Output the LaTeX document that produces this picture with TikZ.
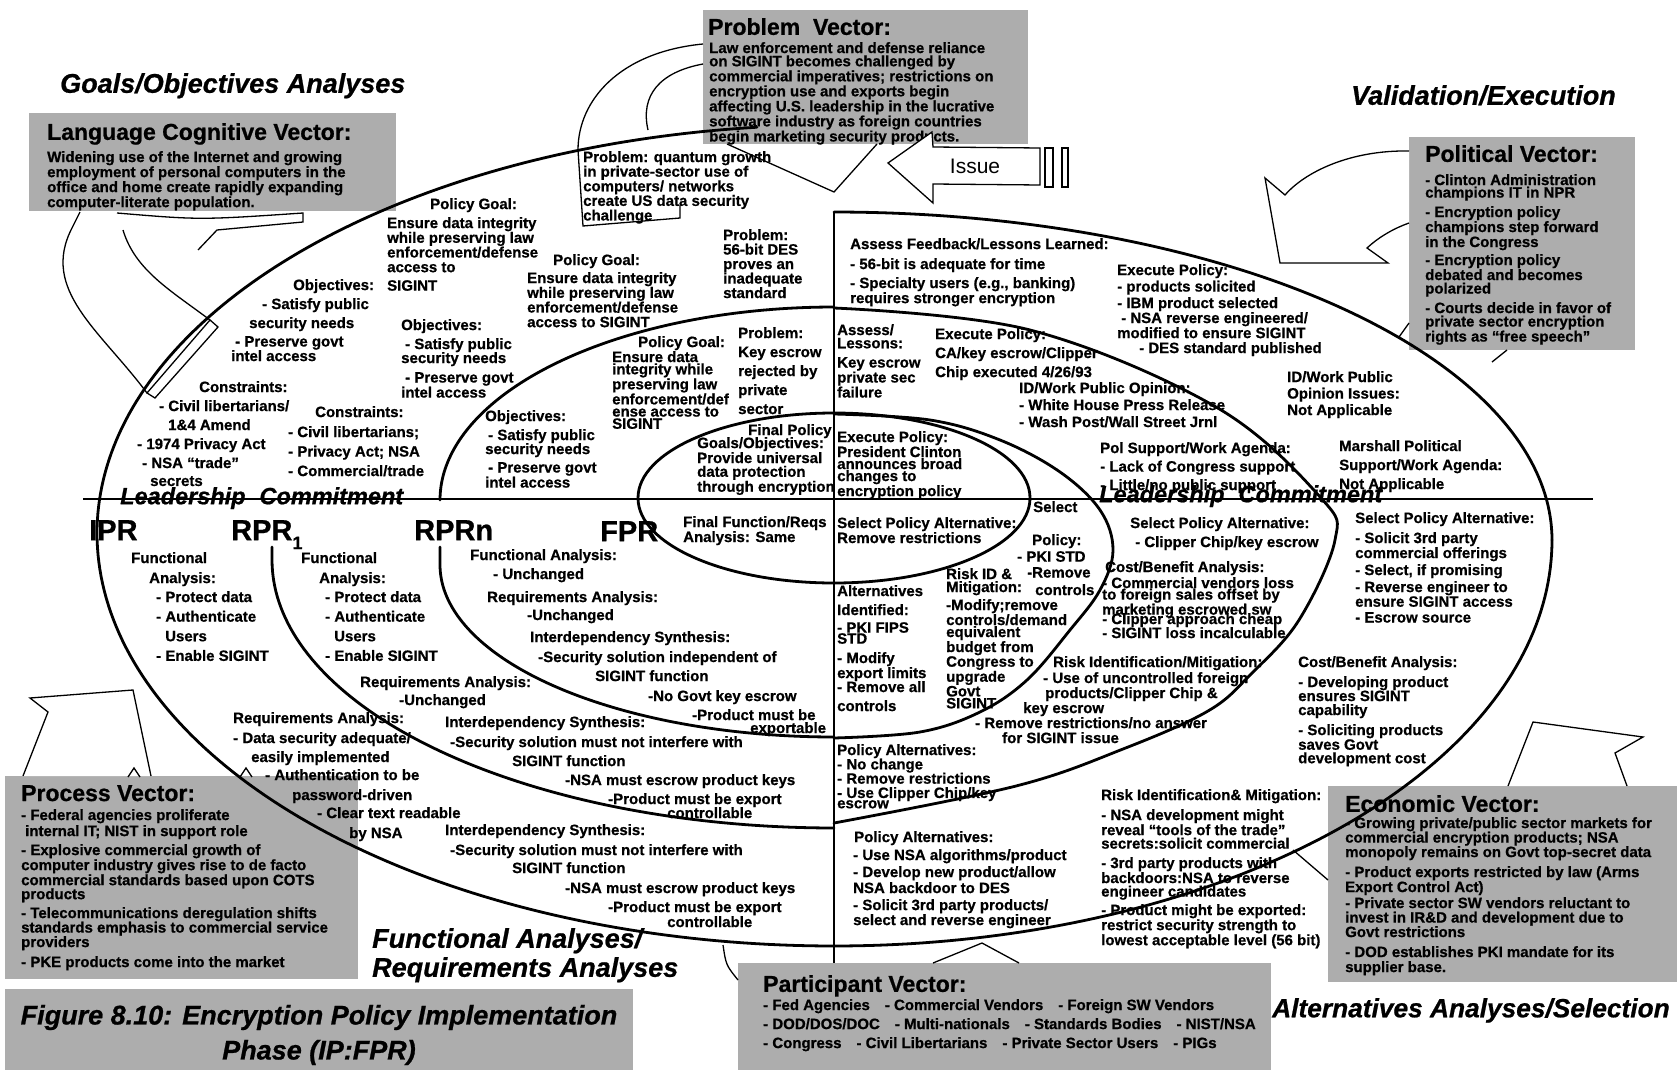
\documentclass[tikz,border=0pt]{standalone}
\usepackage{fontspec}
\setmainfont{Liberation Sans}[BoldFeatures={FakeBold=0.8},BoldItalicFeatures={FakeBold=0.8}]
\newcommand\T[5][15]{\node[tx=#1] (#2) at (#3,#4-11) {#5};}
\begin{document}
\begin{tikzpicture}[x=1pt,y=-1pt,
  tx/.style={font=\fontsize{15}{#1}\selectfont\bfseries,align=left,anchor=north west,inner sep=0pt},
  tx/.default=15,
  vt/.style={font=\fontsize{23}{23}\selectfont\bfseries,anchor=north west,inner sep=0pt},
  ttl/.style={font=\fontsize{27}{29}\selectfont\bfseries\itshape,anchor=north west,inner sep=0pt,align=left},
  lc/.style={font=\fontsize{23.5}{23.5}\selectfont\bfseries\itshape,anchor=north west,inner sep=0pt},
  lbl/.style={font=\fontsize{29}{29}\selectfont\bfseries,anchor=north west,inner sep=0pt},
  vbox/.style={fill=black!32,draw=none},
  spiral/.style={line width=2.8pt,line cap=round,line join=round},
  axis/.style={line width=1.6pt},
  blk/.style={draw,line width=1.3pt,fill=white,line join=miter},
  ln/.style={line width=1.3pt},
]
\useasboundingbox (0,0) rectangle (1677,1070);

% ---------------- grey vector boxes ----------------
\fill[vbox] (29,113) rectangle (396,211);
\node[vt] (lcvT) at (47,123) {Language Cognitive Vector:};
\T[12.6]{lcvB}{47}{162}{Widening use of the Internet and growing\\employment of personal computers in the\\office and home create rapidly expanding\\computer-literate population.}

\fill[vbox] (703,10) rectangle (1028,144);
\node[vt] (pvT) at (708,18) {Problem~ Vector:};
\T[13.2]{pvB}{709}{53}{Law enforcement and defense reliance\\on SIGINT becomes challenged by\\commercial imperatives; restrictions on\\encryption use and exports begin\\affecting U.S. leadership in the lucrative\\software industry as foreign countries\\begin marketing security products.}

\fill[vbox] (1409,137) rectangle (1635,350);
\node[vt] (polT) at (1425,145) {Political Vector:};
\T[12.5]{pol1}{1425}{185}{- Clinton Administration\\champions IT in NPR}
\T[13.8]{pol2}{1425}{217}{- Encryption policy\\champions step forward\\in the Congress}
\T[13.5]{pol3}{1425}{265}{- Encryption policy\\debated and becomes\\polarized}
\T[13.5]{pol4}{1425}{313}{- Courts decide in favor of\\private sector encryption\\rights as “free speech”}

\fill[vbox] (5,776) rectangle (358,979);
\node[vt] (prT) at (21,785) {Process Vector:};
\T[16]{pr1}{21}{820}{- Federal agencies proliferate\\\hspace{4pt}internal IT; NIST in support role}
\T[14]{pr2}{21}{855}{- Explosive commercial growth of\\computer industry gives rise to de facto\\commercial standards based upon COTS\\products}
\T[14.5]{pr3}{21}{918}{- Telecommunications deregulation shifts\\standards emphasis to commercial service\\providers}
\T{pr4}{21}{967}{- PKE products come into the market}

\fill[vbox] (1328,786) rectangle (1677,982);
\node[vt] (evT) at (1345,795) {Economic Vector:};
\T[14.5]{ev1}{1345}{828}{- Growing private/public sector markets for\\commercial encryption products; NSA\\monopoly remains on Govt top-secret data}
\T[13]{ev2}{1345}{877}{- Product exports restricted by law (Arms\\Export Control Act)}
\T[14.5]{ev3}{1345}{908}{- Private sector SW vendors reluctant to\\invest in IR\&D and development due to\\Govt restrictions}
\T[15]{ev4}{1345}{957}{- DOD establishes PKI mandate for its\\supplier base.}

\fill[vbox] (738,963) rectangle (1271,1070);
\node[vt] (paT) at (763,975) {Participant Vector:};
\T[19]{pa1}{763}{1010}{- Fed Agencies\quad - Commercial Vendors\quad - Foreign SW Vendors\\- DOD/DOS/DOC\quad - Multi-nationals\quad - Standards Bodies\quad - NIST/NSA\\- Congress\quad - Civil Libertarians\quad - Private Sector Users\quad - PIGs}

\fill[vbox] (5,989) rectangle (633,1070);
\node[font=\fontsize{27}{35}\selectfont\bfseries\itshape,align=center,inner sep=0pt] (cap) at (319,1035) {Figure 8.10: Encryption Policy Implementation\\Phase (IP:FPR)};

% ---------------- section titles ----------------
\node[ttl] (goals) at (60,73) {Goals/Objectives Analyses};
\node[ttl] (valid) at (1351,85) {Validation/Execution};
\node[ttl] (func) at (372,928) {Functional Analyses/\\Requirements Analyses};
\node[ttl,font=\fontsize{26.3}{29}\selectfont\bfseries\itshape] (alt) at (1272,998) {Alternatives Analyses/Selection};

% ---------------- block arrows ----------------
\draw[blk] (888,163) -- (932,132) -- (933,147) -- (1040,148) -- (1040,185) -- (933,184) -- (933,203) -- cycle;
\node[font=\fontsize{21}{21}\selectfont,inner sep=0pt] (issue) at (975,166) {Issue};
\draw[blk] (1045,148) rectangle (1053,187);
\draw[blk] (1062,148) rectangle (1068,187);
\draw[ln] (727,144) -- (834,192) -- (877,144);

\draw[blk] (1409,151) .. controls (1350,150) and (1305,172) .. (1285,195) -- (1265,178) -- (1280,263) -- (1388,263) -- (1367,248) .. controls (1380,236) and (1395,228) .. (1409,223);
\draw[ln] (1507,350) -- (1492,362);
\draw[ln] (1409,323) -- (1399,337);

\draw[blk] (1508,786) -- (1533,722) -- (1643,737) -- (1615,753) -- (1627,786);
\draw[ln] (1293,850) -- (1328,880);
\draw[blk] (23,776) -- (48,712) -- (30,698) -- (133,690) -- (151,776);
\draw[ln] (128,777) -- (134,768) -- (140,777);
\draw[ln] (240,777) -- (246,768) -- (252,777);
\draw[ln] (933,963) -- (982,943) -- (1019,963);
\draw[ln] (723,945) .. controls (726,965) .. (738,980);

% language arrow
\draw[ln] (80,212) -- (72,228) .. controls (40,290) and (100,330) .. (147,393);
\draw[ln] (123,230) .. controls (135,270) and (170,290) .. (210,320);
\draw[ln] (117,213) .. controls (200,220) .. (303,213) -- (303,222) -- (217,230) -- (198,250);
\draw[blk] (210,320) -- (218,327) -- (155,398) -- (147,393) -- cycle;
% problem arrow
\draw[ln] (703,44) .. controls (620,52) and (578,100) .. (578,150) -- (583,226) -- (680,218) -- (680,205);
\draw[ln] (703,64) .. controls (660,72) and (640,95) .. (648,130);

% ---------------- spiral ----------------
\draw[spiral] plot[domain=96:180,samples=90,variable=\t] ({834+737*cos(\t)},{533-408*sin(\t)}) -- plot[domain=180:270,samples=90,variable=\t] ({834+737*cos(\t)},{533-413*sin(\t)});
\draw[spiral] plot[domain=0:90,samples=90,variable=\t] ({834+718*cos(\t)},{540-328*sin(\t)});
\draw[spiral] plot[domain=-90:0,samples=90,variable=\t] ({834+718*cos(\t)},{540-406*sin(\t)});
\draw[spiral] plot[smooth,tension=0.6] coordinates {(834,308) (1030,330) (1216,407) (1321,498) (1335,540) (1299,620) (1251,674) (1208,711) (1123,749) (1016,786) (834,823)};
\draw[spiral] (272,547) -- plot[domain=180:270,samples=80,variable=\t] ({834+562*cos(\t)},{560-268*sin(\t)});
\draw[spiral] plot[domain=90:180,samples=80,variable=\t] ({834+394*cos(\t)},{500-193*sin(\t)});
\draw[spiral] (440,547) -- plot[domain=180:270,samples=80,variable=\t] ({834+394*cos(\t)},{565-172*sin(\t)});
\draw[spiral] plot[smooth,tension=0.6] coordinates {(834,414) (930,420) (1000,440) (1060,472) (1100,510) (1113,550) (1100,590) (1070,630) (1027,680) (980,712) (920,732) (834,738)};
\draw[spiral] (834,498) ellipse [x radius=196, y radius=85];
\draw[axis] (83,499) -- (1593,499);
\draw[axis] (834,212) -- (834,963);

% ---------------- labels ----------------
\node[lbl] (ipr) at (89,520) {IPR};
\node[lbl] (rpr1) at (231,520) {RPR\raisebox{-9pt}{\fontsize{18}{18}\selectfont 1}};
\node[lbl] (rprn) at (414,520) {RPRn};
\node[lbl] (fpr) at (600,521) {FPR};
\node[lc] (lc1) at (120,487) {Leadership\hspace{14pt}Commitment};
\node[lc] (lc2) at (1099,485) {Leadership\hspace{14pt}Commitment};

% ---------------- upper left ----------------
\T{ul1}{430}{209}{Policy Goal:}
\T[14.7]{ul2}{387}{228}{Ensure data integrity\\while preserving law\\enforcement/defense\\access to}
\T{ul3}{387}{291}{SIGINT}
\T{ul4}{293}{290}{Objectives:}
\T{ul5}{262}{309}{- Satisfy public}
\T{ul6}{249}{328}{security needs}
\T{ul7}{235}{347}{- Preserve govt}
\T{ul8}{231}{361}{intel access}
\T{ul9}{199}{392}{Constraints:}
\T{ul10}{159}{411}{- Civil libertarians/}
\T{ul11}{168}{430}{1\&4 Amend}
\T{ul12}{137}{449}{- 1974 Privacy Act}
\T{ul13}{142}{468}{- NSA “trade”}
\T{ul14}{150}{487}{secrets}
\T{ul15}{315}{417}{Constraints:}
\T[19.5]{ul16}{288}{437}{- Civil libertarians;\\- Privacy Act; NSA\\- Commercial/trade}
\T{ul17}{401}{330}{Objectives:}
\T[14]{ul18}{401}{349}{\hspace{4pt}- Satisfy public\\security needs}
\T[13]{ul19}{401}{383}{\hspace{4pt}- Preserve govt\\intel access}
\T{ul20}{485}{421}{Objectives:}
\T[14]{ul21}{485}{440}{\hspace{3pt}- Satisfy public\\security needs}
\T[14]{ul22}{485}{473}{\hspace{3pt}- Preserve govt\\intel access}
\T{ul23}{553}{265}{Policy Goal:}
\T[14.7]{ul24}{527}{283}{Ensure data integrity\\while preserving law\\enforcement/defense\\access to SIGINT}
\T[14.5]{ul25}{723}{240}{Problem:\\56-bit DES\\proves an\\inadequate\\standard}
\T{ul26}{638}{347}{Policy Goal:}
\T[12.2]{ul27}{612}{362}{Ensure data\\integrity while\\preserving law\\enforcement/def\\ense access to\\SIGINT}
\T[19]{ul28}{738}{338}{Problem:\\Key escrow\\rejected by\\private\\sector}
\T{ul29}{748}{435}{Final Policy}
\T[13.7]{ul30}{697}{448}{Goals/Objectives:\\Provide universal\\data protection\\through encryption}
\T[14.6]{ul31}{583}{162}{Problem: quantum growth\\in private-sector use of\\computers/ networks\\create US data security\\challenge}

% ---------------- upper right ----------------
\T{ur1}{850}{249}{Assess Feedback/Lessons Learned:}
\T{ur2}{850}{269}{- 56-bit is adequate for time}
\T[14]{ur3}{850}{288}{- Specialty users (e.g., banking)\\requires stronger encryption}
\T[16.5]{ur4}{1117}{275}{Execute Policy:\\- products solicited\\- IBM product selected}
\T[14]{ur5}{1117}{323}{\hspace{4pt}- NSA reverse engineered/\\modified to ensure SIGINT}
\T{ur6}{1139}{353}{- DES standard published}
\T[13.2]{ur7}{837}{335}{Assess/\\Lessons:}
\T[13.5]{ur8}{837}{368}{Key escrow\\private sec\\failure}
\T[19]{ur9}{935}{339}{Execute Policy:\\CA/key escrow/Clipper\\Chip executed 4/26/93}
\T[17]{ur10}{1019}{393}{ID/Work Public Opinion:\\- White House Press Release\\- Wash Post/Wall Street Jrnl}
\T[16.5]{ur11}{1287}{382}{ID/Work Public\\Opinion Issues:\\Not Applicable}
\T[12]{ur12}{837}{442}{Execute Policy:\\President Clinton\\announces broad\\changes to\\encryption policy}
\T[18.5]{ur13}{1100}{453}{Pol Support/Work Agenda:\\- Lack of Congress support\\- Little/no public support}
\T[19]{ur14}{1339}{451}{Marshall Political\\Support/Work Agenda:\\Not Applicable}

% ---------------- lower left ----------------
\T{ll1}{131}{563}{Functional}
\T{ll2}{149}{583}{Analysis:}
\T[19.6]{ll3}{156}{602}{- Protect data\\- Authenticate\\\hspace{9pt}Users\\- Enable SIGINT}
\T{ll4}{301}{563}{Functional}
\T{ll5}{319}{583}{Analysis:}
\T[19.6]{ll6}{325}{602}{- Protect data\\- Authenticate\\\hspace{9pt}Users\\- Enable SIGINT}
\T{ll7}{360}{687}{Requirements Analysis:}
\T{ll8}{399}{705}{-Unchanged}
\T{ll9}{233}{723}{Requirements Analysis:}
\T{ll10}{233}{743}{- Data security adequate/}
\T{ll11}{251}{762}{easily implemented}
\T{ll12}{265}{780}{- Authentication to be}
\T{ll13}{292}{800}{password-driven}
\T{ll14}{317}{818}{- Clear text readable}
\T{ll15}{349}{838}{by NSA}
\T{ll16}{445}{727}{Interdependency Synthesis:}
\T{ll17}{450}{747}{-Security solution must not interfere with}
\T{ll18}{512}{766}{SIGINT function}
\T{ll19}{565}{785}{-NSA must escrow product keys}
\T[14]{ll20}{608}{804}{-Product must be export\\\hspace{59pt}controllable}
\T{ll22}{445}{835}{Interdependency Synthesis:}
\T{ll23}{450}{855}{-Security solution must not interfere with}
\T{ll24}{512}{873}{SIGINT function}
\T{ll25}{565}{893}{-NSA must escrow product keys}
\T[13]{ll26}{608}{912}{-Product must be export\\\hspace{59pt}controllable}
\T{ll28}{470}{560}{Functional Analysis:}
\T{ll29}{493}{579}{- Unchanged}
\T{ll30}{487}{602}{Requirements Analysis:}
\T{ll31}{527}{620}{-Unchanged}
\T{ll32}{530}{642}{Interdependency Synthesis:}
\T{ll33}{538}{662}{-Security solution independent of}
\T{ll34}{595}{681}{SIGINT function}
\T{ll35}{648}{701}{-No Govt key escrow}
\T[13]{ll36}{692}{720}{-Product must be\\\hspace{58pt}exportable}
\T[13]{ll38}{683}{527}{Final Function/Reqs\\Analysis: Same}

% ---------------- lower right ----------------
\T[13]{lr1}{837}{528}{Select Policy Alternative:\\Remove restrictions}
\T{lr2}{1033}{512}{Select}
\T{lr3}{1032}{545}{Policy:}
\T{lr4}{1017}{562}{- PKI STD}
\T{lr5}{1027}{578}{-Remove}
\T{lr6}{1035}{595}{controls}
\T{lr7}{837}{596}{Alternatives}
\T{lr8}{837}{615}{Identified:}
\T[11]{lr9}{837}{633}{- PKI FIPS\\STD}
\T[12]{lr10}{837}{663}{- Modify\\export limits}
\T{lr11}{837}{692}{- Remove all}
\T{lr12}{837}{711}{controls}
\T[13]{lr13}{946}{579}{Risk ID \&\\Mitigation:}
\T[12]{lr14}{946}{610}{-Modify;remove\\controls/demand\\equivalent\\budget from\\Congress to\\upgrade\\Govt\\SIGINT}
\T{lr15}{1130}{528}{Select Policy Alternative:}
\T{lr16}{1135}{547}{- Clipper Chip/key escrow}
\T{lr17}{1105}{572}{Cost/Benefit Analysis:}
\T[11.5]{lr18}{1102}{588}{- Commercial vendors loss\\to foreign sales offset by\\marketing escrowed sw}
\T[14]{lr19}{1102}{624}{- Clipper approach cheap\\- SIGINT loss incalculable}
\T{lr20}{1053}{667}{Risk Identification/Mitigation:}
\T[15]{lr21}{1043}{683}{- Use of uncontrolled foreign\\\hspace{2pt}products/Clipper Chip \&}
\T{lr22}{1023}{713}{key escrow}
\T{lr23}{975}{728}{- Remove restrictions/no answer}
\T{lr24}{1002}{743}{for SIGINT issue}
\T[14.3]{lr25}{837}{755}{Policy Alternatives:\\- No change\\- Remove restrictions\\- Use Clipper Chip/key}
\T{lr26}{837}{811}{escrow}
\T{lr27}{854}{842}{Policy Alternatives:}
\T[17]{lr28}{853}{860}{- Use NSA algorithms/product\\- Develop new product/allow}
\T{lr29}{853}{893}{NSA backdoor to DES}
\T[15]{lr30}{853}{910}{- Solicit 3rd party products/\\select and reverse engineer}
\T{lr31}{1101}{800}{Risk Identification\& Mitigation:}
\T[13.5]{lr32}{1101}{820}{- NSA development might\\reveal “tools of the trade”\\secrets:solicit commercial}
\T[13.5]{lr33}{1101}{868}{- 3rd party products with\\backdoors:NSA to reverse\\engineer candidates}
\T[14]{lr34}{1101}{915}{- Product might be exported:\\restrict security strength to\\lowest acceptable level (56 bit)}
\T{lr35}{1355}{523}{Select Policy Alternative:}
\T[12]{lr36}{1355}{543}{- Solicit 3rd party\\commercial offerings}
\T{lr37}{1355}{575}{- Select, if promising}
\T[13]{lr38}{1355}{592}{- Reverse engineer to\\ensure SIGINT access}
\T{lr39}{1355}{623}{- Escrow source}
\T{lr40}{1298}{667}{Cost/Benefit Analysis:}
\T[14]{lr41}{1298}{687}{- Developing product\\ensures SIGINT\\capability}
\T[13.5]{lr42}{1298}{735}{- Soliciting products\\saves Govt\\development cost}
\end{tikzpicture}
\end{document}
